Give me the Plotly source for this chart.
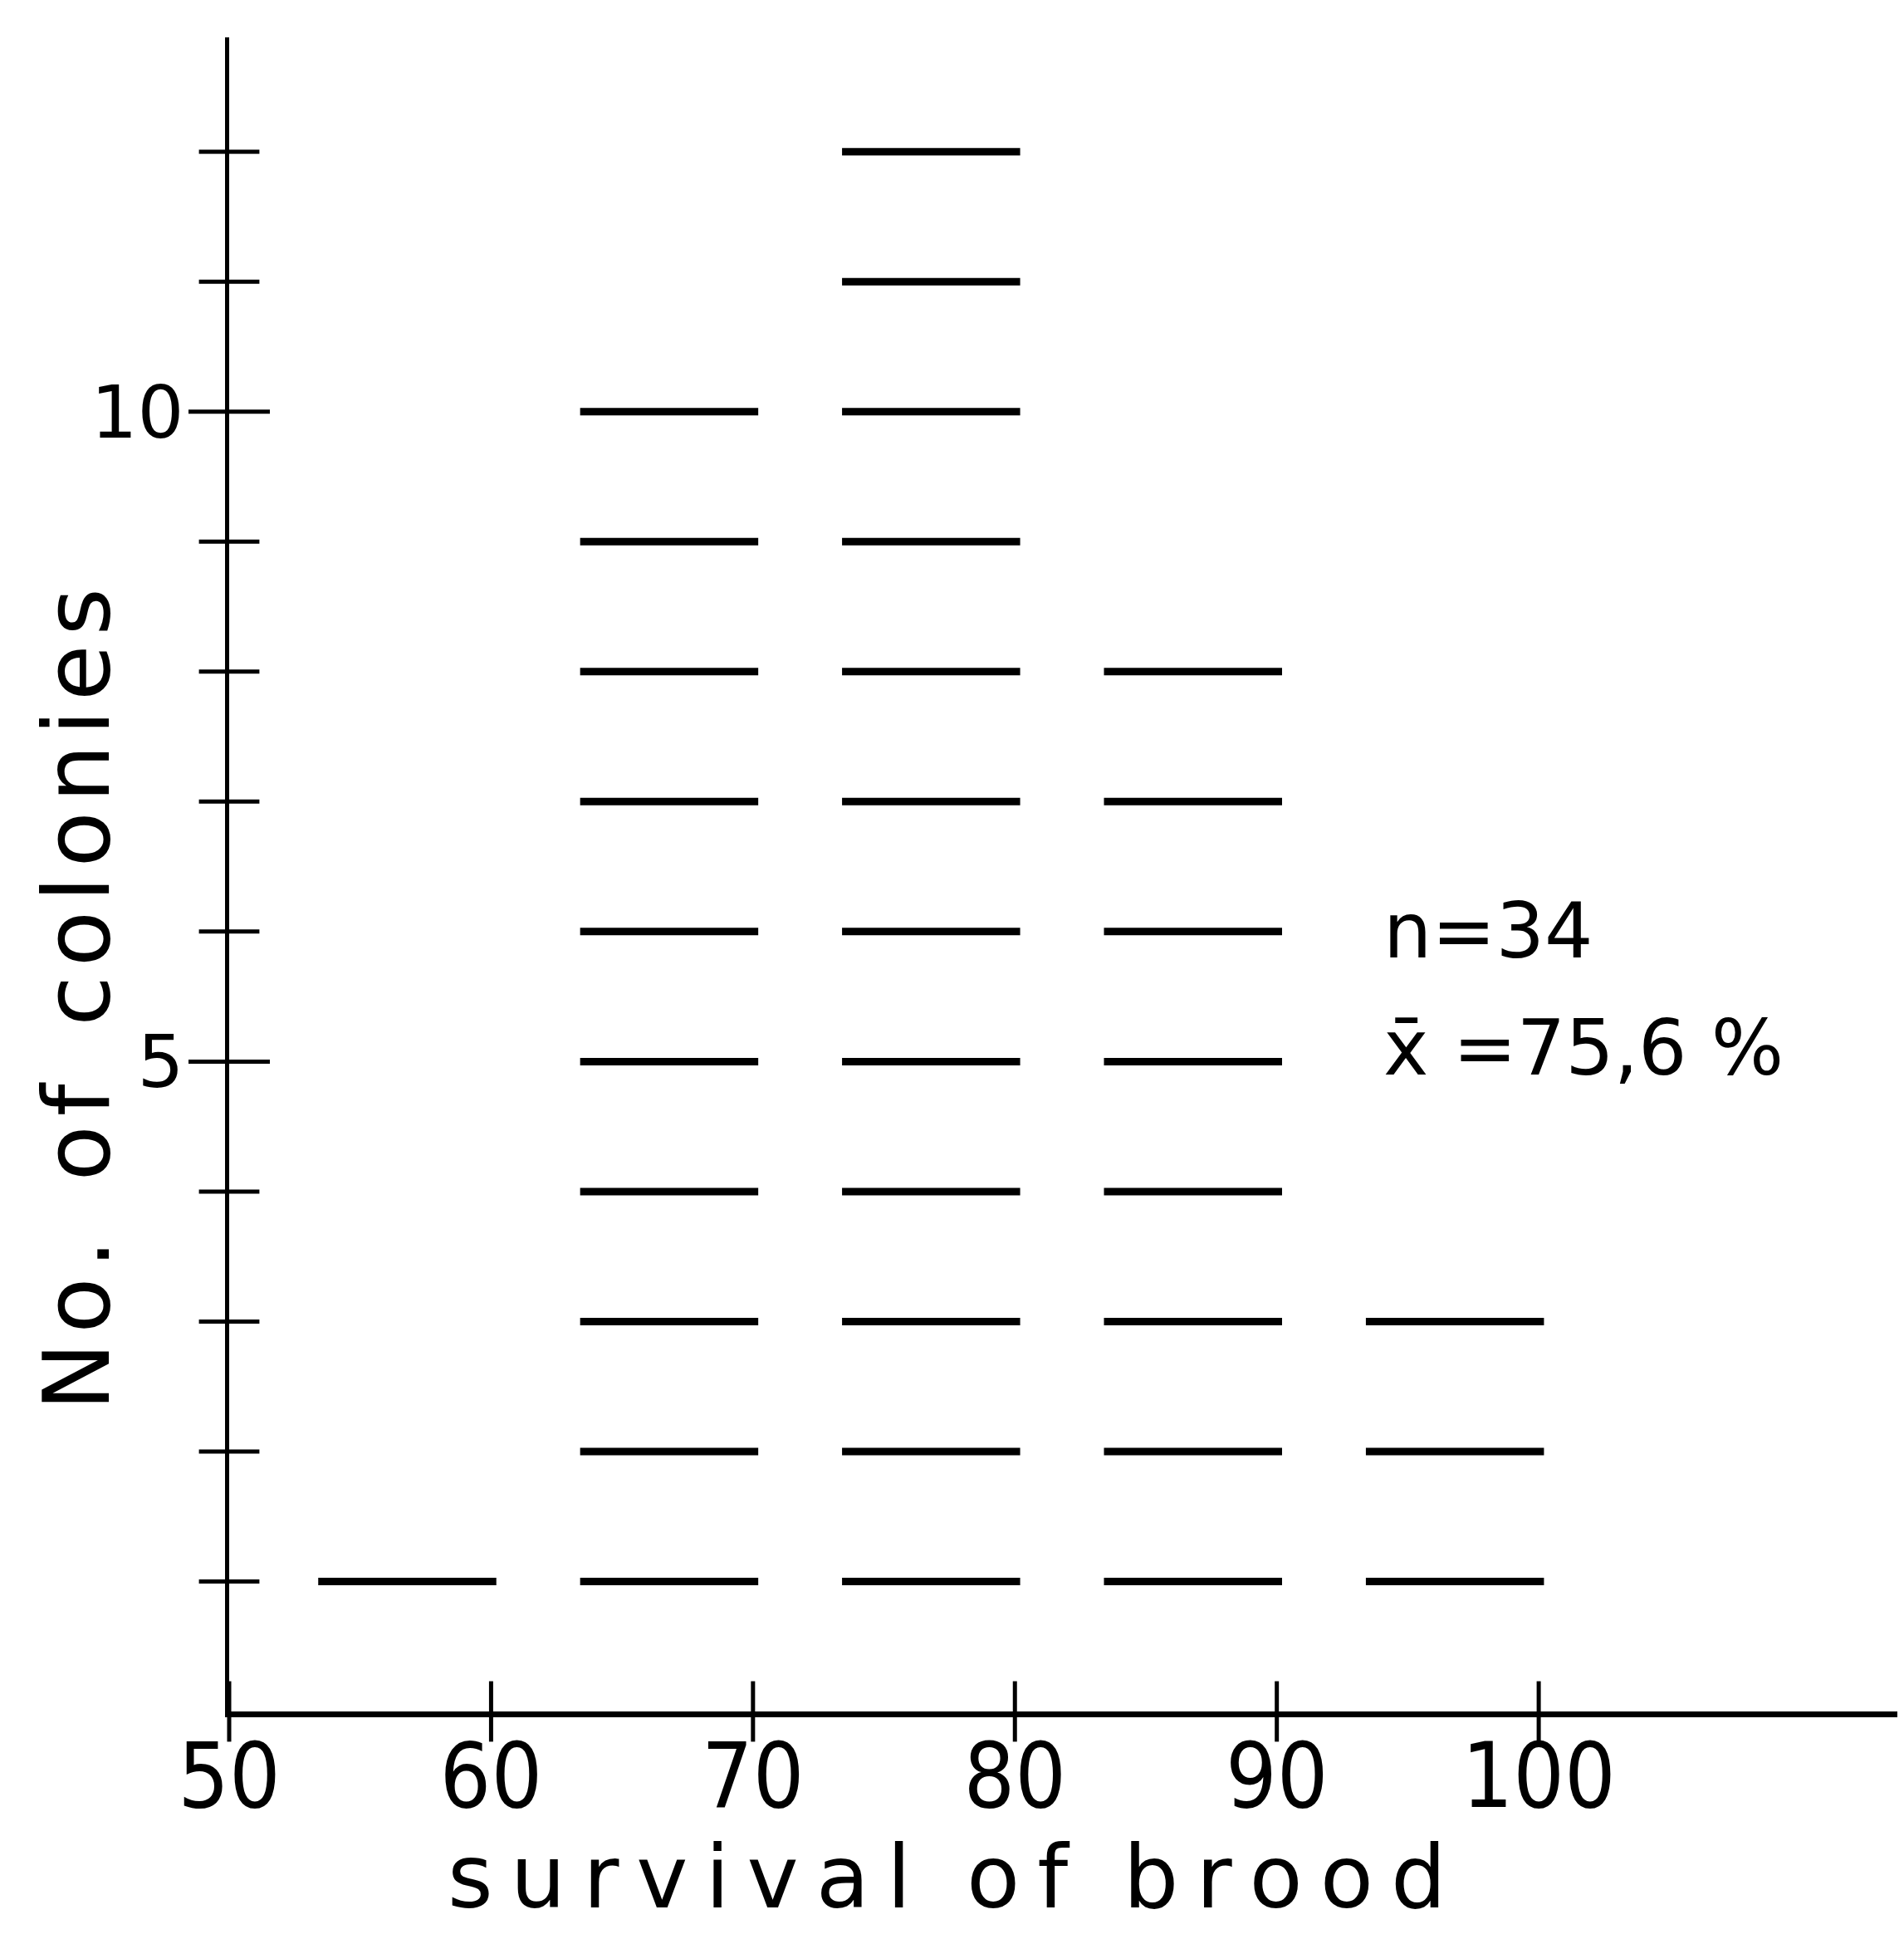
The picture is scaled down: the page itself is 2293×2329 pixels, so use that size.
import plotly.graph_objects as go

# Data
bin_lo = [50, 60, 70, 80, 90]
bin_hi = [60, 70, 80, 90, 100]
counts = [1, 10, 12, 8, 3]
x_ticks = [50, 60, 70, 80, 90, 100]
x_tick_labels = ["50", "60", "70", "80", "90", "100"]
y_minor_ticks = [1, 2, 3, 4, 6, 7, 8, 9, 11, 12]
y_major_ticks = [5, 10]
y_tick_labels = ["5", "10"]
n_text = "n=34"
mean_text = "x̄ =75,6 %"
x_title = "s\u2009u\u2009r\u2009v\u2009i\u2009v\u2009a\u2009l  o\u2009f  b\u2009r\u2009o\u2009o\u2009d"
y_title = "N\u200ao\u200a.  o\u200af  c\u200ao\u200al\u200ao\u200an\u200ai\u200ae\u200as"

FONT = "DejaVu Sans"
FONT_N = "DejaVu Sans Condensed, DejaVu Sans"
INK = "#000000"

fig = go.Figure()

# stacked dashes, one per colony
xs, ys = [], []
for lo, hi, c in zip(bin_lo, bin_hi, counts):
    for k in range(1, c + 1):
        xs += [lo + 3.4, hi + 0.2, None]
        ys += [k, k, None]
fig.add_trace(go.Scatter(x=xs, y=ys, mode="lines",
                         line=dict(color=INK, width=9),
                         hoverinfo="skip", showlegend=False))

# crossing tick marks on y axis
fig.add_trace(go.Scatter(x=[50] * len(y_minor_ticks), y=y_minor_ticks, mode="markers",
                         marker=dict(symbol="line-ew", size=52, line=dict(color=INK, width=5)),
                         cliponaxis=False, hoverinfo="skip", showlegend=False))
fig.add_trace(go.Scatter(x=[50] * len(y_major_ticks), y=y_major_ticks, mode="markers",
                         marker=dict(symbol="line-ew", size=70, line=dict(color=INK, width=5)),
                         cliponaxis=False, hoverinfo="skip", showlegend=False))
# crossing tick marks on x axis
fig.add_trace(go.Scatter(x=x_ticks, y=[0] * len(x_ticks), mode="markers",
                         marker=dict(symbol="line-ns", size=52, line=dict(color=INK, width=5)),
                         cliponaxis=False, hoverinfo="skip", showlegend=False))

fig.add_annotation(x=94.0, y=6.0, xref="x", yref="y", text=n_text, showarrow=False,
                   xanchor="left", yanchor="middle",
                   font=dict(family=FONT, size=92, color=INK))
fig.add_annotation(x=94.0, y=5.1, xref="x", yref="y", text=mean_text, showarrow=False,
                   xanchor="left", yanchor="middle",
                   font=dict(family=FONT, size=92, color=INK))

# axis titles
fig.add_annotation(x=1132, y=2253, xref="paper", yref="paper", text=x_title, showarrow=False,
                   xanchor="center", yanchor="middle",
                   font=dict(family=FONT, size=105, color=INK))
fig.add_annotation(x=85, y=1196, xref="paper", yref="paper", text=y_title, showarrow=False,
                   textangle=-90, xanchor="center", yanchor="middle",
                   font=dict(family=FONT, size=110, color=INK))

W, H = 2293, 2329
ML, MR, MT, MB = 268, 0, 37, 276
# convert the title positions (given in pixels) to paper fractions
for a in fig.layout.annotations[-2:]:
    a.x = (a.x - ML) / (W - ML - MR)
    a.y = (H - MB - a.y) / (H - MT - MB)

fig.update_layout(
    width=W, height=H,
    margin=dict(l=ML, r=MR, t=MT, b=MB, autoexpand=False),
    paper_bgcolor="white", plot_bgcolor="white",
    font=dict(family=FONT, color=INK),
    xaxis=dict(range=[50, 114.2], showgrid=False, zeroline=False, automargin=False,
               showline=True, linecolor=INK, linewidth=7,
               tickmode="array", tickvals=x_ticks, ticktext=x_tick_labels,
               ticks="", ticklen=0, ticklabelstandoff=-22,
               tickfont=dict(family=FONT_N, size=108, color=INK)),
    yaxis=dict(range=[0, 12.88], showgrid=False, zeroline=False, automargin=False,
               showline=True, linecolor=INK, linewidth=5,
               tickmode="array", tickvals=y_major_ticks, ticktext=y_tick_labels,
               ticks="", ticklen=0, ticklabelstandoff=32,
               tickfont=dict(family=FONT, size=88, color=INK)),
)

fig.write_html("out.html")
